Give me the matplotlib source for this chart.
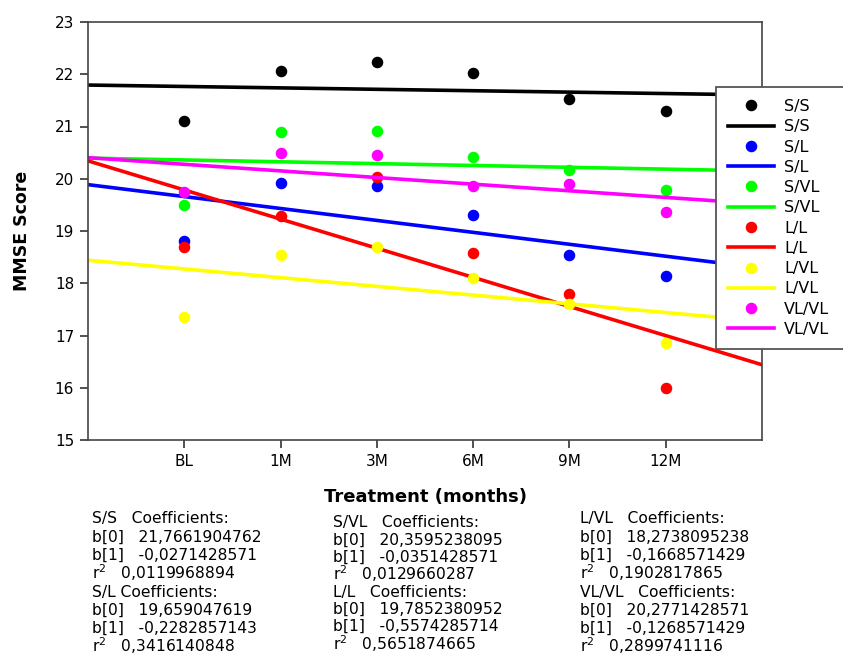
import matplotlib
matplotlib.use('Agg')
import matplotlib.pyplot as plt
import numpy as np

# ── Data ──
time_labels = ["BL", "1M", "3M", "6M", "9M", "12M"]
time_pos = [0, 1, 2, 3, 4, 5]

groups = ["S/S", "S/L", "S/VL", "L/L", "L/VL", "VL/VL"]
colors = ["#000000", "#0000ff", "#00ff00", "#ff0000", "#ffff00", "#ff00ff"]

ss   = [21.10, 22.07, 22.23, 22.03, 21.52, 21.30]
sl   = [18.81, 19.92, 19.87, 19.31, 18.55, 18.13]
svl  = [19.49, 20.89, 20.91, 20.42, 20.17, 19.79]
ll   = [18.70, 19.29, 20.03, 18.57, 17.80, 16.00]
lvl  = [17.35, 18.55, 18.69, 18.11, 17.60, 16.86]
vlvl = [19.74, 20.50, 20.45, 19.87, 19.89, 19.36]
series = [ss, sl, svl, ll, lvl, vlvl]

b0 = [21.7661904762, 19.659047619, 20.3595238095, 19.7852380952, 18.2738095238, 20.2771428571]
b1 = [-0.0271428571, -0.2282857143, -0.0351428571, -0.5574285714, -0.1668571429, -0.1268571429]
r2 = [0.0119968894, 0.3416140848, 0.0129660287, 0.5651874665, 0.1902817865, 0.2899741116]

x_min, x_max = -1, 6

fig = plt.figure(figsize=(8.43, 6.58), dpi=100)
ax = fig.add_axes([88/843, 1-440/658, (762-88)/843, (440-22)/658])

xs = np.array([x_min, x_max])
for name, col, ys, a, b in zip(groups, colors, series, b0, b1):
    ax.plot(time_pos, ys, "o", color=col, markersize=7.3, linestyle="none", label=name)
    ax.plot(xs, a + b*xs, "-", color=col, linewidth=2.6, label=name)

ax.set_xlim(x_min, x_max)
ax.set_ylim(15, 23)
ax.set_xticks(time_pos)
ax.set_xticklabels(time_labels)
ax.set_yticks(range(15, 24))
ax.tick_params(direction="out", length=6, width=1.2, colors="#333333",
               labelsize=11, labelcolor="black", pad=4)
for sp in ax.spines.values():
    sp.set_color("#444444")
    sp.set_linewidth(1.2)

ax.set_ylabel("MMSE Score", fontsize=12.5, fontweight="bold", labelpad=17)
fig.text(425/843, 1-497/658, "Treatment (months)", fontsize=13, fontweight="bold",
         ha="center", va="center")

# legend runs off the right edge, as in the reference
leg_top = 1-87/658
leg_h = (354-87)/658
leg = ax.legend(loc="upper left", bbox_to_anchor=(716/843, leg_top-leg_h, 140/843, leg_h),
                bbox_transform=fig.transFigure, mode="expand", fontsize=11.5,
                handlelength=2.9, labelspacing=0.33, borderpad=0.75, handletextpad=0.6,
                fancybox=False, framealpha=1, borderaxespad=0)
leg.get_frame().set_edgecolor("#555555")
leg.get_frame().set_linewidth(1.3)

# ── Coefficient text blocks ──
def fmt(v):
    return f"{v:.10f}".rstrip("0").replace(".", ",")

blocks = [
    (92, [519, 537, 555, 573], 0),
    (92, [592, 610, 628, 646], 1),
    (333, [523, 540, 557, 574], 2),
    (333, [592, 609, 626, 644], 3),
    (580, [519, 537, 555, 573], 4),
    (580, [592, 610, 628, 646], 5),
]
for x, ys_, i in blocks:
    sep = " " if groups[i] == "S/L" else "   "
    lines = [groups[i] + sep + "Coefficients:",
             "b[0]   " + fmt(b0[i]),
             "b[1]   " + fmt(b1[i]),
             "r$^2$   " + fmt(r2[i])]
    for t, y in zip(lines, ys_):
        fig.text(x/843, 1-y/658, t, fontsize=11.2, ha="left", va="center")

plt.savefig("out.png", dpi=100)
